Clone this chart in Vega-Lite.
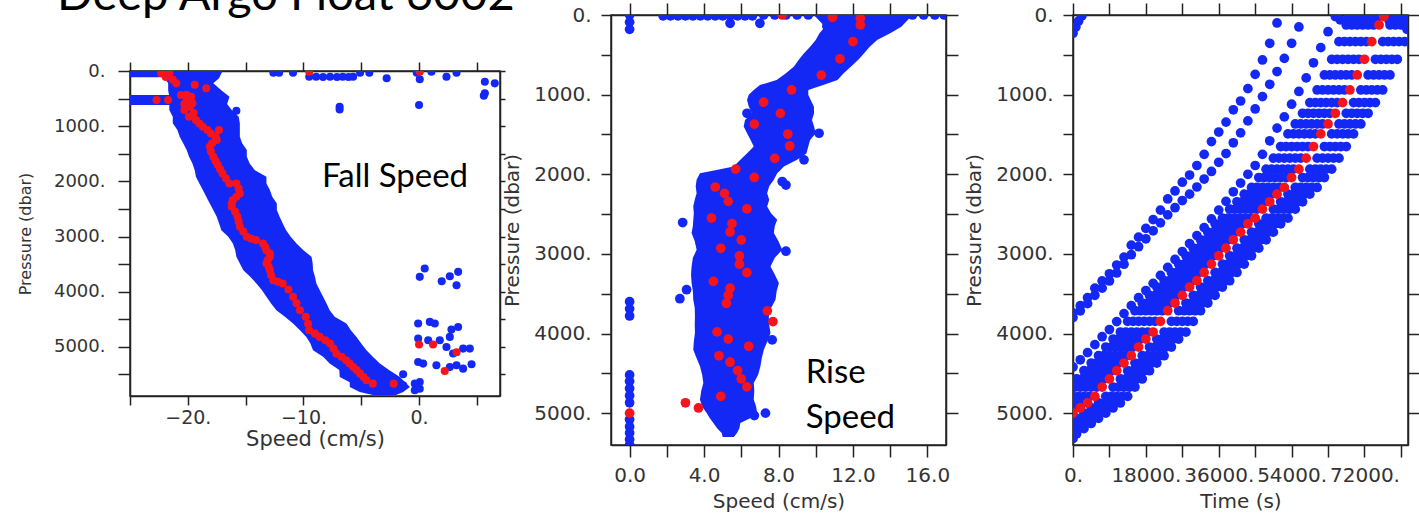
{
"$schema": "https://vega.github.io/schema/vega-lite/v6.json",
"background": "white",
"padding": {"left": 16, "top": -28, "right": 5, "bottom": 5},
"spacing": -16,
"config": {
  "axis": {"domainColor": "#222", "domainWidth": 1.5, "tickColor": "#222", "tickWidth": 1.5, "labelFont": "DejaVu Sans", "titleFont": "DejaVu Sans", "labelColor": "#333", "titleColor": "#333", "titleFontWeight": "normal", "grid": false, "labelFlush": false, "labelOverlap": false, "labelBound": false}
},
"hconcat": [
{
  "spacing": 5,
  "vconcat": [
  {
    "width": 370, "height": 40,
    "view": {"stroke": null},
    "title": {"text": "Deep Argo Float 6002", "font": "Lato", "fontSize": 47, "fontWeight": "normal", "color": "#000", "anchor": "start", "frame": "group", "dx": -73, "offset": -5},
    "data": {"values": [{}]},
    "mark": {"type": "text"},
    "encoding": {"text": {"value": ""}}
  },
  {
  "width": 370, "height": 325,
  "view": {"stroke": "#222", "strokeWidth": 1.5},
  "resolve": {"axis": {"x": "independent", "y": "independent"}},
  "layer": [
    {
      "data": {"values": [
        {"seg":"t1","p":0,"lo":-25.5,"hi":-17.3},{"seg":"t1","p":115,"lo":-25.5,"hi":-17.5},
        {"seg":"t2","p":435,"lo":-25.5,"hi":-21.4},{"seg":"t2","p":617,"lo":-25.5,"hi":-21.4},
        {"seg":"m","p":0,"lo":-22.6,"hi":-17.0},{"seg":"m","p":130,"lo":-22.0,"hi":-17.3},{"seg":"m","p":224,"lo":-21.7,"hi":-17.8},{"seg":"m","p":350,"lo":-21.7,"hi":-17.1},{"seg":"m","p":465,"lo":-21.6,"hi":-16.4},{"seg":"m","p":600,"lo":-21.6,"hi":-16.6},{"seg":"m","p":707,"lo":-21.6,"hi":-16.2},{"seg":"m","p":830,"lo":-21.3,"hi":-15.6},{"seg":"m","p":949,"lo":-21.3,"hi":-15.5},{"seg":"m","p":1070,"lo":-20.9,"hi":-15.5},{"seg":"m","p":1191,"lo":-20.7,"hi":-15.5},{"seg":"m","p":1310,"lo":-20.4,"hi":-15.3},{"seg":"m","p":1433,"lo":-20.1,"hi":-14.9},{"seg":"m","p":1550,"lo":-19.9,"hi":-14.9},{"seg":"m","p":1675,"lo":-19.6,"hi":-14.65},{"seg":"m","p":1800,"lo":-19.4,"hi":-14.2},{"seg":"m","p":1917,"lo":-19.3,"hi":-13.2},{"seg":"m","p":2040,"lo":-19.0,"hi":-13.2},{"seg":"m","p":2158,"lo":-18.7,"hi":-12.9},{"seg":"m","p":2280,"lo":-18.4,"hi":-12.7},{"seg":"m","p":2400,"lo":-18.1,"hi":-12.3},{"seg":"m","p":2520,"lo":-17.8,"hi":-12.3},{"seg":"m","p":2642,"lo":-17.5,"hi":-12.06},{"seg":"m","p":2760,"lo":-17.3,"hi":-11.8},{"seg":"m","p":2884,"lo":-17.1,"hi":-11.5},{"seg":"m","p":3005,"lo":-16.5,"hi":-11.1},{"seg":"m","p":3126,"lo":-16.1,"hi":-10.6},{"seg":"m","p":3250,"lo":-15.9,"hi":-10.0},{"seg":"m","p":3368,"lo":-15.8,"hi":-9.3},{"seg":"m","p":3489,"lo":-15.5,"hi":-9.2},{"seg":"m","p":3609,"lo":-15.2,"hi":-9.17},{"seg":"m","p":3730,"lo":-14.6,"hi":-9.0},{"seg":"m","p":3851,"lo":-14.07,"hi":-8.88},{"seg":"m","p":3970,"lo":-13.6,"hi":-8.6},{"seg":"m","p":4093,"lo":-13.2,"hi":-8.3},{"seg":"m","p":4215,"lo":-12.8,"hi":-8.0},{"seg":"m","p":4335,"lo":-12.34,"hi":-7.73},{"seg":"m","p":4456,"lo":-11.6,"hi":-7.3},{"seg":"m","p":4577,"lo":-10.9,"hi":-6.28},{"seg":"m","p":4700,"lo":-10.3,"hi":-5.9},{"seg":"m","p":4819,"lo":-9.75,"hi":-5.41},{"seg":"m","p":4940,"lo":-9.4,"hi":-5.0},{"seg":"m","p":5061,"lo":-9.17,"hi":-4.55},{"seg":"m","p":5180,"lo":-8.3,"hi":-4.0},{"seg":"m","p":5303,"lo":-7.73,"hi":-3.39},{"seg":"m","p":5420,"lo":-6.9,"hi":-2.6},{"seg":"m","p":5545,"lo":-6.86,"hi":-1.66},{"seg":"m","p":5640,"lo":-6.0,"hi":-1.2},{"seg":"m","p":5726,"lo":-5.99,"hi":-0.79},{"seg":"m","p":5817,"lo":-5.13,"hi":-1.37},{"seg":"m","p":5870,"lo":-4.0,"hi":-2.0}
      ]},
      "mark": {"type": "area", "orient": "horizontal", "color": "#1428f5", "clip": true},
      "encoding": {
        "y": {"field": "p", "type": "quantitative", "scale": {"domain": [0, 5890], "reverse": true, "nice": false, "zero": false},
              "axis": {"orient": "left", "values": [0,500,1000,1500,2000,2500,3000,3500,4000,4500,5000,5500], "labelExpr": "datum.value % 1000 == 0 ? format(datum.value, 'd') + '.' : ''", "tickSize": 12, "labelFontSize": 18, "labelPadding": 13, "title": "Pressure (dbar)", "titleFontSize": 16, "titlePadding": 20}},
        "x": {"field": "lo", "type": "quantitative", "scale": {"domain": [-25, 7], "nice": false, "zero": false},
              "axis": {"orient": "bottom", "values": [-25,-20,-15,-10,-5,0,5], "labelExpr": "datum.value % 10 == 0 ? replace(format(datum.value, 'd'), '-', '\u2212') + '.' : ''", "tickSize": 9, "labelFontSize": 19, "labelPadding": 3, "title": "Speed (cm/s)", "titleFontSize": 21, "titlePadding": 1}},
        "x2": {"field": "hi"},
        "detail": {"field": "seg"}
      }
    },
    {
      "data": {"values": [
        {"s":-12.6,"p":30},{"s":-12.1,"p":30},{"s":-10.9,"p":30},{"s":-9.5,"p":103},{"s":-8.9,"p":103},{"s":-8.3,"p":110},{"s":-7.7,"p":103},{"s":-7.1,"p":110},{"s":-6.6,"p":103},{"s":-6.1,"p":110},{"s":-5.7,"p":103},{"s":-5.1,"p":30},{"s":-4.3,"p":30},{"s":-2.8,"p":133},{"s":-0.2,"p":30},{"s":1.07,"p":12},{"s":0.06,"p":151},{"s":2.37,"p":103},{"s":3.24,"p":31},{"s":5.69,"p":194},{"s":6.55,"p":224},{"s":5.69,"p":405},{"s":5.6,"p":450},{"s":-6.87,"p":647},{"s":-6.87,"p":696},{"s":0.0,"p":617},{"s":-15.8,"p":720},
        {"s":0.06,"p":3731},{"s":0.49,"p":3579},{"s":1.96,"p":3810},{"s":2.66,"p":3719},{"s":3.38,"p":3640},{"s":3.24,"p":3882},
        {"s":-0.08,"p":4577},{"s":0.93,"p":4547},{"s":1.36,"p":4577},{"s":3.38,"p":4638},{"s":2.8,"p":4686},
        {"s":-0.08,"p":4849},{"s":0.79,"p":4880},{"s":1.79,"p":4880},{"s":2.66,"p":4819},{"s":2.37,"p":5001},{"s":3.81,"p":5031},{"s":4.39,"p":5031},{"s":2.94,"p":5121},
        {"s":-0.08,"p":5273},{"s":0.35,"p":5303},{"s":1.5,"p":5333},{"s":2.66,"p":5364},{"s":3.24,"p":5333},{"s":4.54,"p":5315},{"s":3.81,"p":5394},
        {"s":-1.38,"p":5497},{"s":-1.38,"p":5696},{"s":-0.37,"p":5666},{"s":0.06,"p":5757},{"s":-0.37,"p":5787},{"s":0.06,"p":5636},{"s":-2.5,"p":5750},{"s":-3.0,"p":5790}
      ]},
      "mark": {"type": "circle", "size": 65, "color": "#1428f5", "opacity": 1, "clip": true},
      "encoding": {
        "x": {"field": "s", "type": "quantitative", "scale": {"domain": [-25, 7], "nice": false, "zero": false},
              "axis": {"orient": "top", "values": [-25,-20,-15,-10,-5,0,5], "labels": false, "tickSize": 9, "title": null}},
        "y": {"field": "p", "type": "quantitative", "scale": {"domain": [0, 5890], "reverse": true, "nice": false, "zero": false},
              "axis": {"orient": "right", "values": [0,500,1000,1500,2000,2500,3000,3500,4000,4500,5000,5500], "labels": false, "tickSize": 5, "title": null}}
      }
    },
    {
      "data": {"values": [
        {"s":-22.3,"p":40},{"s":-21.6,"p":40},{"s":-21.9,"p":110},{"s":-21.3,"p":160},{"s":-21.0,"p":224},{"s":-19.4,"p":250},{"s":-18.4,"p":314},
        {"s":-22.7,"p":526},{"s":-21.7,"p":526},
        {"s":-20.6,"p":435},{"s":-20.1,"p":430},{"s":-20.1,"p":526},{"s":-19.7,"p":465},{"s":-19.6,"p":586},{"s":-20.3,"p":600},{"s":-20.3,"p":707},{"s":-19.8,"p":650},{"s":-19.9,"p":828},{"s":-19.5,"p":760},{"s":-19.3,"p":889},{"s":-19.0,"p":950},{"s":-18.7,"p":1010},{"s":-18.3,"p":1070},{"s":-18.0,"p":1131},{"s":-17.3,"p":1070},{"s":-17.6,"p":1190},{"s":-17.5,"p":1252},{"s":-18.1,"p":1373},{"s":-17.9,"p":1310},{"s":-18.0,"p":1460},{"s":-17.8,"p":1554},{"s":-17.6,"p":1630},{"s":-17.4,"p":1705},{"s":-17.2,"p":1780},{"s":-17.0,"p":1857},{"s":-16.7,"p":1950},{"s":-16.4,"p":2038},{"s":-15.8,"p":2038},{"s":-15.6,"p":2130},{"s":-15.5,"p":2219},{"s":-15.8,"p":2280},{"s":-16.1,"p":2340},{"s":-16.2,"p":2400},{"s":-16.2,"p":2461},{"s":-15.9,"p":2550},{"s":-15.7,"p":2642},{"s":-15.6,"p":2730},{"s":-15.5,"p":2823},{"s":-15.2,"p":2910},{"s":-14.9,"p":3005},{"s":-14.5,"p":3040},{"s":-14.1,"p":3065},{"s":-13.5,"p":3126},{"s":-13.3,"p":3190},{"s":-13.2,"p":3247},{"s":-12.9,"p":3310},{"s":-12.9,"p":3368},{"s":-13.1,"p":3430},{"s":-13.2,"p":3489},{"s":-13.0,"p":3550},{"s":-12.9,"p":3609},{"s":-12.8,"p":3700},{"s":-12.6,"p":3791},{"s":-12.2,"p":3820},{"s":-11.8,"p":3851},{"s":-11.3,"p":3960},{"s":-10.9,"p":4093},{"s":-10.6,"p":4210},{"s":-10.3,"p":4335},{"s":-9.8,"p":4456},{"s":-9.6,"p":4580},{"s":-9.5,"p":4698},{"s":-9.0,"p":4760},{"s":-8.6,"p":4819},{"s":-8.1,"p":4880},{"s":-7.7,"p":4940},{"s":-7.4,"p":5030},{"s":-7.15,"p":5122},{"s":-6.7,"p":5180},{"s":-6.3,"p":5243},{"s":-6.0,"p":5300},{"s":-5.7,"p":5364},{"s":-5.4,"p":5420},{"s":-5.1,"p":5485},{"s":-4.8,"p":5545},{"s":-4.55,"p":5605},{"s":-4.0,"p":5666},{"s":-2.2,"p":5666},
        {"s":-9.5,"p":12},{"s":0.06,"p":12},{"s":0.0,"p":4958},{"s":1.21,"p":4958},{"s":3.24,"p":5097},{"s":2.22,"p":5437}
      ]},
      "mark": {"type": "circle", "size": 65, "color": "#f5141e", "opacity": 1, "clip": true},
      "encoding": {
        "x": {"field": "s", "type": "quantitative", "scale": {"domain": [-25, 7], "nice": false, "zero": false}, "axis": null},
        "y": {"field": "p", "type": "quantitative", "scale": {"domain": [0, 5890], "reverse": true, "nice": false, "zero": false}, "axis": null}
      }
    },
    {
      "data": {"values": [{}]},
      "mark": {"type": "text", "font": "Lato", "fontSize": 33, "color": "#000", "align": "left", "baseline": "alphabetic"},
      "encoding": {
        "x": {"datum": -8.4, "type": "quantitative", "axis": null},
        "y": {"datum": 2104, "type": "quantitative", "axis": null},
        "text": {"value": "Fall Speed"}
      }
    }
  ]
  }
  ]
},
{
  "width": 335, "height": 430,
  "view": {"stroke": "#222", "strokeWidth": 1.5},
  "resolve": {"axis": {"x": "independent", "y": "independent"}},
  "layer": [
    {
      "data": {"values": [
        {"p":0,"lo":9.9,"hi":15.2},{"p":146,"lo":10.5,"hi":14.6},{"p":230,"lo":10.2,"hi":14.0},{"p":314,"lo":10.0,"hi":13.3},{"p":400,"lo":9.7,"hi":12.9},{"p":481,"lo":9.37,"hi":12.6},{"p":560,"lo":9.1,"hi":12.3},{"p":648,"lo":8.83,"hi":11.9},{"p":730,"lo":8.4,"hi":11.5},{"p":815,"lo":7.9,"hi":11.17},{"p":880,"lo":7.0,"hi":10.4},{"p":941,"lo":6.67,"hi":9.6},{"p":1000,"lo":6.4,"hi":9.6},{"p":1066,"lo":6.31,"hi":9.73},{"p":1150,"lo":6.4,"hi":9.9},{"p":1234,"lo":6.58,"hi":9.91},{"p":1320,"lo":6.2,"hi":9.8},{"p":1401,"lo":6.13,"hi":9.91},{"p":1485,"lo":6.31,"hi":10.0},{"p":1570,"lo":6.5,"hi":9.7},{"p":1652,"lo":6.67,"hi":9.6},{"p":1740,"lo":6.3,"hi":9.5},{"p":1819,"lo":5.95,"hi":9.0},{"p":1903,"lo":5.59,"hi":8.29},{"p":1950,"lo":4.6,"hi":8.1},{"p":1987,"lo":3.78,"hi":7.93},{"p":2070,"lo":3.6,"hi":7.75},{"p":2150,"lo":3.55,"hi":7.5},{"p":2238,"lo":3.6,"hi":7.39},{"p":2320,"lo":3.5,"hi":7.5},{"p":2405,"lo":3.42,"hi":7.39},{"p":2490,"lo":3.45,"hi":7.6},{"p":2572,"lo":3.42,"hi":7.93},{"p":2650,"lo":3.4,"hi":7.8},{"p":2739,"lo":3.33,"hi":7.75},{"p":2840,"lo":3.5,"hi":8.0},{"p":2949,"lo":3.6,"hi":8.2},{"p":3050,"lo":3.4,"hi":7.8},{"p":3158,"lo":3.33,"hi":7.57},{"p":3260,"lo":3.3,"hi":7.8},{"p":3367,"lo":3.33,"hi":8.02},{"p":3470,"lo":3.4,"hi":7.9},{"p":3576,"lo":3.42,"hi":7.84},{"p":3680,"lo":3.5,"hi":7.6},{"p":3785,"lo":3.51,"hi":7.48},{"p":3890,"lo":3.5,"hi":7.5},{"p":3994,"lo":3.51,"hi":7.57},{"p":4100,"lo":3.45,"hi":7.4},{"p":4203,"lo":3.42,"hi":7.21},{"p":4310,"lo":3.6,"hi":7.1},{"p":4412,"lo":3.78,"hi":7.03},{"p":4520,"lo":3.9,"hi":6.9},{"p":4621,"lo":3.96,"hi":6.67},{"p":4720,"lo":3.85,"hi":6.7},{"p":4830,"lo":3.78,"hi":6.67},{"p":4920,"lo":3.9,"hi":6.8},{"p":4998,"lo":4.14,"hi":6.85},{"p":5060,"lo":4.3,"hi":6.5},{"p":5124,"lo":4.5,"hi":5.95},{"p":5190,"lo":4.7,"hi":5.9},{"p":5249,"lo":4.95,"hi":5.77},{"p":5300,"lo":5.0,"hi":5.6}
      ]},
      "mark": {"type": "area", "orient": "horizontal", "color": "#1428f5", "clip": true},
      "encoding": {
        "y": {"field": "p", "type": "quantitative", "scale": {"domain": [0, 5400], "reverse": true, "nice": false, "zero": false},
              "axis": {"orient": "left", "values": [0,500,1000,1500,2000,2500,3000,3500,4000,4500,5000], "labelExpr": "datum.value % 1000 == 0 ? format(datum.value, 'd') + '.' : ''", "tickSize": 10, "labelFontSize": 20, "labelPadding": 10, "title": "Pressure (dbar)", "titleFontSize": 20, "titlePadding": 11}},
        "x": {"field": "lo", "type": "quantitative", "scale": {"domain": [-1, 17], "nice": false, "zero": false},
              "axis": {"orient": "bottom", "values": [0,2,4,6,8,10,12,14,16], "labelExpr": "datum.value % 4 == 0 ? format(datum.value, '.1f') : ''", "tickSize": 12, "labelFontSize": 20, "labelPadding": 8, "title": "Speed (cm/s)", "titleFontSize": 20, "titlePadding": 6}},
        "x2": {"field": "hi"}
      }
    },
    {
      "data": {"values": [
        {"s":0,"p":0},{"s":0,"p":90},{"s":0,"p":180},{"s":0,"p":3600},{"s":0,"p":3690},{"s":0,"p":3780},{"s":0,"p":4520},{"s":0,"p":4600},{"s":0,"p":4690},{"s":0,"p":4780},{"s":0,"p":4870},{"s":0,"p":5080},{"s":0,"p":5170},{"s":0,"p":5250},{"s":0,"p":5330},{"s":0,"p":5400},
        {"s":1.8,"p":10},{"s":2.2,"p":10},{"s":2.6,"p":10},{"s":3.0,"p":10},{"s":3.4,"p":10},{"s":3.8,"p":10},{"s":4.2,"p":10},{"s":4.6,"p":10},{"s":5.0,"p":10},{"s":5.4,"p":10},{"s":5.8,"p":10},{"s":6.2,"p":10},{"s":6.6,"p":10},{"s":7.2,"p":0},{"s":7.8,"p":0},{"s":8.4,"p":0},{"s":9.0,"p":0},{"s":9.6,"p":0},{"s":14.6,"p":0},{"s":15.2,"p":0},{"s":15.8,"p":0},{"s":16.4,"p":0},{"s":16.9,"p":0},{"s":5.4,"p":104},{"s":7.0,"p":104},{"s":10.6,"p":140},{"s":13.2,"p":100},{"s":14.0,"p":125},
        {"s":2.85,"p":2606},{"s":3.06,"p":3450},{"s":2.7,"p":3563},{"s":8.2,"p":2091},{"s":8.4,"p":2966},{"s":7.66,"p":4080},{"s":10.18,"p":1485},{"s":9.37,"p":1819},{"s":6.31,"p":1234},{"s":8.4,"p":2135},{"s":7.3,"p":5000},{"s":6.7,"p":5030}
      ]},
      "mark": {"type": "circle", "size": 95, "color": "#1428f5", "opacity": 1, "clip": true},
      "encoding": {
        "x": {"field": "s", "type": "quantitative", "scale": {"domain": [-1, 17], "nice": false, "zero": false},
              "axis": {"orient": "top", "values": [0,2,4,6,8,10,12,14,16], "labels": false, "tickSize": 12, "title": null}},
        "y": {"field": "p", "type": "quantitative", "scale": {"domain": [0, 5400], "reverse": true, "nice": false, "zero": false},
              "axis": {"orient": "right", "values": [0,500,1000,1500,2000,2500,3000,3500,4000,4500,5000], "labels": false, "tickSize": 12, "title": "|", "titleOpacity": 0, "titleFontSize": 10, "titlePadding": 9}}
      }
    },
    {
      "data": {"values": [
        {"s":8.2,"p":0},{"s":10.9,"p":30},{"s":12.4,"p":40},{"s":12.4,"p":125},{"s":12.0,"p":335},{"s":11.3,"p":550},{"s":10.3,"p":755},{"s":8.7,"p":940},{"s":7.2,"p":1095},{"s":8.1,"p":1235},{"s":6.7,"p":1370},{"s":8.5,"p":1495},{"s":8.6,"p":1645},{"s":7.8,"p":1800},{"s":5.7,"p":1935},{"s":6.7,"p":2040},{"s":4.6,"p":2160},{"s":5.1,"p":2240},{"s":5.3,"p":2340},{"s":6.3,"p":2435},{"s":4.4,"p":2550},{"s":5.5,"p":2620},{"s":5.4,"p":2725},{"s":6.0,"p":2825},{"s":4.9,"p":2930},{"s":5.9,"p":3025},{"s":5.9,"p":3130},{"s":6.3,"p":3235},{"s":4.5,"p":3345},{"s":5.4,"p":3430},{"s":5.3,"p":3520},{"s":5.2,"p":3620},{"s":7.4,"p":3715},{"s":7.7,"p":3850},{"s":4.7,"p":3980},{"s":5.3,"p":4070},{"s":6.4,"p":4160},{"s":4.8,"p":4280},{"s":5.4,"p":4360},{"s":5.8,"p":4465},{"s":6.0,"p":4570},{"s":6.3,"p":4670},{"s":4.9,"p":4790},{"s":3.0,"p":4870},{"s":3.7,"p":4935},{"s":0.0,"p":5000}
      ]},
      "mark": {"type": "circle", "size": 95, "color": "#f5141e", "opacity": 1, "clip": true},
      "encoding": {
        "x": {"field": "s", "type": "quantitative", "scale": {"domain": [-1, 17], "nice": false, "zero": false}, "axis": null},
        "y": {"field": "p", "type": "quantitative", "scale": {"domain": [0, 5400], "reverse": true, "nice": false, "zero": false}, "axis": null}
      }
    },
    {
      "data": {"values": [{}]},
      "mark": {"type": "text", "font": "Lato", "fontSize": 33, "color": "#000", "align": "left", "baseline": "alphabetic", "lineHeight": 45},
      "encoding": {
        "x": {"datum": 9.46, "type": "quantitative", "axis": null},
        "y": {"datum": 4617, "type": "quantitative", "axis": null},
        "text": {"value": ["Rise", "Speed"]}
      }
    }
  ]
},
{
  "width": 335, "height": 430,
  "view": {"stroke": "#222", "strokeWidth": 1.5},
  "resolve": {"axis": {"x": "independent", "y": "independent"}},
  "layer": [
    {
      "data": {"values": [
        {"t":0,"p":4420},{"t":1800,"p":4330},{"t":3600,"p":4240},{"t":5400,"p":4140},{"t":7200,"p":4040},{"t":9000,"p":3950},{"t":10800,"p":3850},{"t":12600,"p":3750},{"t":14400,"p":3650},{"t":16200,"p":3550},{"t":18000,"p":3460},{"t":19800,"p":3370},{"t":21600,"p":3270},{"t":23400,"p":3170},{"t":25200,"p":3070},{"t":27000,"p":2970},{"t":28800,"p":2870},{"t":30600,"p":2770},{"t":32400,"p":2670},{"t":34200,"p":2560},{"t":36000,"p":2450},{"t":37800,"p":2340},{"t":39600,"p":2220},{"t":41400,"p":2110},{"t":43200,"p":2000},{"t":45000,"p":1890},{"t":46800,"p":1750},{"t":48600,"p":1580},{"t":50400,"p":1420},{"t":52200,"p":1280},{"t":54000,"p":1120},{"t":55800,"p":960},{"t":57600,"p":790},{"t":59400,"p":600},{"t":61200,"p":410},{"t":63000,"p":210},{"t":64800,"p":20},
        {"t":0,"p":4620},{"t":900,"p":4571},{"t":2700,"p":4467},{"t":4500,"p":4371},{"t":6300,"p":4279},{"t":8100,"p":4170},{"t":9900,"p":4069},{"t":11700,"p":3981},{"t":13500,"p":3848},{"t":15300,"p":3714},{"t":17100,"p":3617},{"t":18900,"p":3521},{"t":20700,"p":3417},{"t":22500,"p":3337},{"t":24300,"p":3233},{"t":26100,"p":3128},{"t":27900,"p":3024},{"t":29700,"p":2928},{"t":31500,"p":2823},{"t":33300,"p":2727},{"t":35100,"p":2622},{"t":36900,"p":2551},{"t":38700,"p":2438},{"t":40500,"p":2346},{"t":42300,"p":2250},{"t":44100,"p":2166},{"t":45900,"p":2041},{"t":47700,"p":1936},{"t":49500,"p":1798},{"t":51300,"p":1652},{"t":53100,"p":1493},{"t":54900,"p":1368},{"t":56700,"p":1234},{"t":58500,"p":1100},{"t":60300,"p":941},{"t":62100,"p":753},{"t":63900,"p":556},{"t":65700,"p":335},{"t":67500,"p":125},{"t":68700,"p":20},
        {"t":450,"p":4672},{"t":2250,"p":4571},{"t":4050,"p":4467},{"t":5850,"p":4371},{"t":7650,"p":4279},{"t":9450,"p":4170},{"t":11250,"p":4069},{"t":13050,"p":3981},{"t":14850,"p":3848},{"t":16650,"p":3714},{"t":18450,"p":3617},{"t":20250,"p":3521},{"t":22050,"p":3417},{"t":23850,"p":3337},{"t":25650,"p":3233},{"t":27450,"p":3128},{"t":29250,"p":3024},{"t":31050,"p":2928},{"t":32850,"p":2823},{"t":34650,"p":2727},{"t":36450,"p":2622},{"t":38250,"p":2551},{"t":40050,"p":2438},{"t":41850,"p":2346},{"t":43650,"p":2250},{"t":45450,"p":2166},{"t":47250,"p":2041},{"t":49050,"p":1936},{"t":50850,"p":1798},{"t":52650,"p":1652},{"t":54450,"p":1493},{"t":56250,"p":1368},{"t":58050,"p":1234},{"t":59850,"p":1100},{"t":61650,"p":941},{"t":63450,"p":753},{"t":65250,"p":556},{"t":67050,"p":335},{"t":68850,"p":125},{"t":70050,"p":20},
        {"t":0,"p":4789},{"t":1800,"p":4672},{"t":3600,"p":4571},{"t":5400,"p":4467},{"t":7200,"p":4371},{"t":9000,"p":4279},{"t":10800,"p":4170},{"t":12600,"p":4069},{"t":14400,"p":3981},{"t":16200,"p":3848},{"t":18000,"p":3714},{"t":19800,"p":3617},{"t":21600,"p":3521},{"t":23400,"p":3417},{"t":25200,"p":3337},{"t":27000,"p":3233},{"t":28800,"p":3128},{"t":30600,"p":3024},{"t":32400,"p":2928},{"t":34200,"p":2823},{"t":36000,"p":2727},{"t":37800,"p":2622},{"t":39600,"p":2551},{"t":41400,"p":2438},{"t":43200,"p":2346},{"t":45000,"p":2250},{"t":46800,"p":2166},{"t":48600,"p":2041},{"t":50400,"p":1936},{"t":52200,"p":1798},{"t":54000,"p":1652},{"t":55800,"p":1493},{"t":57600,"p":1368},{"t":59400,"p":1234},{"t":61200,"p":1100},{"t":63000,"p":941},{"t":64800,"p":753},{"t":66600,"p":556},{"t":68400,"p":335},{"t":70200,"p":125},{"t":71400,"p":20},
        {"t":1350,"p":4789},{"t":3150,"p":4672},{"t":4950,"p":4571},{"t":6750,"p":4467},{"t":8550,"p":4371},{"t":10350,"p":4279},{"t":12150,"p":4170},{"t":13950,"p":4069},{"t":15750,"p":3981},{"t":17550,"p":3848},{"t":19350,"p":3714},{"t":21150,"p":3617},{"t":22950,"p":3521},{"t":24750,"p":3417},{"t":26550,"p":3337},{"t":28350,"p":3233},{"t":30150,"p":3128},{"t":31950,"p":3024},{"t":33750,"p":2928},{"t":35550,"p":2823},{"t":37350,"p":2727},{"t":39150,"p":2622},{"t":40950,"p":2551},{"t":42750,"p":2438},{"t":44550,"p":2346},{"t":46350,"p":2250},{"t":48150,"p":2166},{"t":49950,"p":2041},{"t":51750,"p":1936},{"t":53550,"p":1798},{"t":55350,"p":1652},{"t":57150,"p":1493},{"t":58950,"p":1368},{"t":60750,"p":1234},{"t":62550,"p":1100},{"t":64350,"p":941},{"t":66150,"p":753},{"t":67950,"p":556},{"t":69750,"p":335},{"t":71550,"p":125},{"t":72750,"p":20},
        {"t":0,"p":4920},{"t":900,"p":4872},{"t":2700,"p":4789},{"t":4500,"p":4672},{"t":6300,"p":4571},{"t":8100,"p":4467},{"t":9900,"p":4371},{"t":11700,"p":4279},{"t":13500,"p":4170},{"t":15300,"p":4069},{"t":17100,"p":3981},{"t":18900,"p":3848},{"t":20700,"p":3714},{"t":22500,"p":3617},{"t":24300,"p":3521},{"t":26100,"p":3417},{"t":27900,"p":3337},{"t":29700,"p":3233},{"t":31500,"p":3128},{"t":33300,"p":3024},{"t":35100,"p":2928},{"t":36900,"p":2823},{"t":38700,"p":2727},{"t":40500,"p":2622},{"t":42300,"p":2551},{"t":44100,"p":2438},{"t":45900,"p":2346},{"t":47700,"p":2250},{"t":49500,"p":2166},{"t":51300,"p":2041},{"t":53100,"p":1936},{"t":54900,"p":1798},{"t":56700,"p":1652},{"t":58500,"p":1493},{"t":60300,"p":1368},{"t":62100,"p":1234},{"t":63900,"p":1100},{"t":65700,"p":941},{"t":67500,"p":753},{"t":69300,"p":556},{"t":71100,"p":335},{"t":72900,"p":125},{"t":74100,"p":20},
        {"t":450,"p":4935},{"t":2250,"p":4872},{"t":4050,"p":4789},{"t":5850,"p":4672},{"t":7650,"p":4571},{"t":9450,"p":4467},{"t":11250,"p":4371},{"t":13050,"p":4279},{"t":14850,"p":4170},{"t":16650,"p":4069},{"t":18450,"p":3981},{"t":20250,"p":3848},{"t":22050,"p":3714},{"t":23850,"p":3617},{"t":25650,"p":3521},{"t":27450,"p":3417},{"t":29250,"p":3337},{"t":31050,"p":3233},{"t":32850,"p":3128},{"t":34650,"p":3024},{"t":36450,"p":2928},{"t":38250,"p":2823},{"t":40050,"p":2727},{"t":41850,"p":2622},{"t":43650,"p":2551},{"t":45450,"p":2438},{"t":47250,"p":2346},{"t":49050,"p":2250},{"t":50850,"p":2166},{"t":52650,"p":2041},{"t":54450,"p":1936},{"t":56250,"p":1798},{"t":58050,"p":1652},{"t":59850,"p":1493},{"t":61650,"p":1368},{"t":63450,"p":1234},{"t":65250,"p":1100},{"t":67050,"p":941},{"t":68850,"p":753},{"t":70650,"p":556},{"t":72450,"p":335},{"t":74250,"p":125},{"t":75450,"p":20},
        {"t":900,"p":5065},{"t":2700,"p":5000},{"t":4500,"p":4935},{"t":6300,"p":4872},{"t":8100,"p":4789},{"t":9900,"p":4672},{"t":11700,"p":4571},{"t":13500,"p":4467},{"t":15300,"p":4371},{"t":17100,"p":4279},{"t":18900,"p":4170},{"t":20700,"p":4069},{"t":22500,"p":3981},{"t":24300,"p":3848},{"t":26100,"p":3714},{"t":27900,"p":3617},{"t":29700,"p":3521},{"t":31500,"p":3417},{"t":33300,"p":3337},{"t":35100,"p":3233},{"t":36900,"p":3128},{"t":38700,"p":3024},{"t":40500,"p":2928},{"t":42300,"p":2823},{"t":44100,"p":2727},{"t":45900,"p":2622},{"t":47700,"p":2551},{"t":49500,"p":2438},{"t":51300,"p":2346},{"t":53100,"p":2250},{"t":54900,"p":2166},{"t":56700,"p":2041},{"t":58500,"p":1936},{"t":60300,"p":1798},{"t":62100,"p":1652},{"t":63900,"p":1493},{"t":65700,"p":1368},{"t":67500,"p":1234},{"t":69300,"p":1100},{"t":71100,"p":941},{"t":72900,"p":753},{"t":74700,"p":556},{"t":76500,"p":335},{"t":78300,"p":125},{"t":79500,"p":20},
        {"t":450,"p":5130},{"t":2250,"p":5065},{"t":4050,"p":5000},{"t":5850,"p":4935},{"t":7650,"p":4872},{"t":9450,"p":4789},{"t":11250,"p":4672},{"t":13050,"p":4571},{"t":14850,"p":4467},{"t":16650,"p":4371},{"t":18450,"p":4279},{"t":20250,"p":4170},{"t":22050,"p":4069},{"t":23850,"p":3981},{"t":25650,"p":3848},{"t":27450,"p":3714},{"t":29250,"p":3617},{"t":31050,"p":3521},{"t":32850,"p":3417},{"t":34650,"p":3337},{"t":36450,"p":3233},{"t":38250,"p":3128},{"t":40050,"p":3024},{"t":41850,"p":2928},{"t":43650,"p":2823},{"t":45450,"p":2727},{"t":47250,"p":2622},{"t":49050,"p":2551},{"t":50850,"p":2438},{"t":52650,"p":2346},{"t":54450,"p":2250},{"t":56250,"p":2166},{"t":58050,"p":2041},{"t":59850,"p":1936},{"t":61650,"p":1798},{"t":63450,"p":1652},{"t":65250,"p":1493},{"t":67050,"p":1368},{"t":68850,"p":1234},{"t":70650,"p":1100},{"t":72450,"p":941},{"t":74250,"p":753},{"t":76050,"p":556},{"t":77850,"p":335},{"t":79650,"p":125},{"t":80850,"p":20},
        {"t":0,"p":5195},{"t":1800,"p":5130},{"t":3600,"p":5065},{"t":5400,"p":5000},{"t":7200,"p":4935},{"t":9000,"p":4872},{"t":10800,"p":4789},{"t":12600,"p":4672},{"t":14400,"p":4571},{"t":16200,"p":4467},{"t":18000,"p":4371},{"t":19800,"p":4279},{"t":21600,"p":4170},{"t":23400,"p":4069},{"t":25200,"p":3981},{"t":27000,"p":3848},{"t":28800,"p":3714},{"t":30600,"p":3617},{"t":32400,"p":3521},{"t":34200,"p":3417},{"t":36000,"p":3337},{"t":37800,"p":3233},{"t":39600,"p":3128},{"t":41400,"p":3024},{"t":43200,"p":2928},{"t":45000,"p":2823},{"t":46800,"p":2727},{"t":48600,"p":2622},{"t":50400,"p":2551},{"t":52200,"p":2438},{"t":54000,"p":2346},{"t":55800,"p":2250},{"t":57600,"p":2166},{"t":59400,"p":2041},{"t":61200,"p":1936},{"t":63000,"p":1798},{"t":64800,"p":1652},{"t":66600,"p":1493},{"t":68400,"p":1368},{"t":70200,"p":1234},{"t":72000,"p":1100},{"t":73800,"p":941},{"t":75600,"p":753},{"t":77400,"p":556},{"t":79200,"p":335},{"t":81000,"p":125},{"t":82200,"p":20},
        {"t":1350,"p":5195},{"t":3150,"p":5130},{"t":4950,"p":5065},{"t":6750,"p":5000},{"t":8550,"p":4935},{"t":10350,"p":4872},{"t":12150,"p":4789},{"t":13950,"p":4672},{"t":15750,"p":4571},{"t":17550,"p":4467},{"t":19350,"p":4371},{"t":21150,"p":4279},{"t":22950,"p":4170},{"t":24750,"p":4069},{"t":26550,"p":3981},{"t":28350,"p":3848},{"t":30150,"p":3714},{"t":31950,"p":3617},{"t":33750,"p":3521},{"t":35550,"p":3417},{"t":37350,"p":3337},{"t":39150,"p":3233},{"t":40950,"p":3128},{"t":42750,"p":3024},{"t":44550,"p":2928},{"t":46350,"p":2823},{"t":48150,"p":2727},{"t":49950,"p":2622},{"t":51750,"p":2551},{"t":53550,"p":2438},{"t":55350,"p":2346},{"t":57150,"p":2250},{"t":58950,"p":2166},{"t":60750,"p":2041},{"t":62550,"p":1936},{"t":64350,"p":1798},{"t":66150,"p":1652},{"t":67950,"p":1493},{"t":69750,"p":1368},{"t":71550,"p":1234},{"t":73350,"p":1100},{"t":75150,"p":941},{"t":76950,"p":753},{"t":78750,"p":556},{"t":80550,"p":335},{"t":82350,"p":125},
        {"t":0,"p":5320},{"t":900,"p":5260},{"t":2700,"p":5195},{"t":4500,"p":5130},{"t":6300,"p":5065},{"t":8100,"p":5000},{"t":9900,"p":4935},{"t":11700,"p":4872},{"t":13500,"p":4789},{"t":15300,"p":4672},{"t":17100,"p":4571},{"t":18900,"p":4467},{"t":20700,"p":4371},{"t":22500,"p":4279},{"t":24300,"p":4170},{"t":26100,"p":4069},{"t":27900,"p":3981},{"t":29700,"p":3848},{"t":31500,"p":3714},{"t":33300,"p":3617},{"t":35100,"p":3521},{"t":36900,"p":3417},{"t":38700,"p":3337},{"t":40500,"p":3233},{"t":42300,"p":3128},{"t":44100,"p":3024},{"t":45900,"p":2928},{"t":47700,"p":2823},{"t":49500,"p":2727},{"t":51300,"p":2622},{"t":53100,"p":2551},{"t":54900,"p":2438},{"t":56700,"p":2346},{"t":58500,"p":2250},{"t":60300,"p":2166},{"t":62100,"p":2041},{"t":63900,"p":1936},{"t":65700,"p":1798},{"t":67500,"p":1652},{"t":69300,"p":1493},{"t":71100,"p":1368},{"t":72900,"p":1234},{"t":74700,"p":1100},{"t":76500,"p":941},{"t":78300,"p":753},{"t":80100,"p":556},{"t":81900,"p":335},
        {"t":0,"p":3740},{"t":1800,"p":3650},{"t":3600,"p":3550},{"t":5400,"p":3430},{"t":7200,"p":3340},{"t":9000,"p":3250},{"t":10800,"p":3140},{"t":12600,"p":3040},{"t":14400,"p":2890},{"t":16200,"p":2790},{"t":18000,"p":2680},{"t":19800,"p":2570},{"t":21600,"p":2450},{"t":23400,"p":2310},{"t":25200,"p":2210},{"t":27000,"p":2100},{"t":28800,"p":2010},{"t":30600,"p":1890},{"t":32400,"p":1750},{"t":34200,"p":1590},{"t":36000,"p":1470},{"t":37800,"p":1345},{"t":39600,"p":1190},{"t":41400,"p":1080},{"t":43200,"p":925},{"t":45000,"p":745},{"t":46800,"p":565},{"t":48600,"p":355},{"t":50400,"p":100},
        {"t":0,"p":3800},{"t":1800,"p":3715},{"t":3600,"p":3625},{"t":5400,"p":3520},{"t":7200,"p":3430},{"t":9000,"p":3340},{"t":10800,"p":3240},{"t":12600,"p":3130},{"t":14400,"p":3010},{"t":16200,"p":2910},{"t":18000,"p":2810},{"t":19800,"p":2710},{"t":21600,"p":2610},{"t":23400,"p":2510},{"t":25200,"p":2420},{"t":27000,"p":2330},{"t":28800,"p":2250},{"t":30600,"p":2160},{"t":32400,"p":2060},{"t":34200,"p":1965},{"t":36000,"p":1850},{"t":37800,"p":1740},{"t":39600,"p":1605},{"t":41400,"p":1480},{"t":43200,"p":1330},{"t":45000,"p":1180},{"t":46800,"p":1025},{"t":48600,"p":870},{"t":50400,"p":710},{"t":52200,"p":545},{"t":54000,"p":355},{"t":55800,"p":150},
        {"t":0,"p":230},{"t":700,"p":150},{"t":1400,"p":75},{"t":2200,"p":10},
        {"t":66000,"p":60},{"t":68000,"p":30},{"t":70000,"p":80},{"t":72000,"p":40},{"t":74000,"p":90},{"t":78000,"p":60},{"t":80000,"p":30},{"t":82000,"p":80},{"t":82500,"p":180}
      ]},
      "mark": {"type": "circle", "size": 95, "color": "#1428f5", "opacity": 1, "clip": true},
      "encoding": {
        "y": {"field": "p", "type": "quantitative", "scale": {"domain": [0, 5400], "reverse": true, "nice": false, "zero": false},
              "axis": {"orient": "left", "values": [0,500,1000,1500,2000,2500,3000,3500,4000,4500,5000], "labelExpr": "datum.value % 1000 == 0 ? format(datum.value, 'd') + '.' : ''", "tickSize": 10, "labelFontSize": 20, "labelPadding": 10, "title": "Pressure (dbar)", "titleFontSize": 20, "titlePadding": 11}},
        "x": {"field": "t", "type": "quantitative", "scale": {"domain": [0, 82750], "nice": false, "zero": false},
              "axis": {"orient": "bottom", "values": [0,9000,18000,27000,36000,45000,54000,63000,72000,81000], "labelExpr": "datum.value % 18000 == 0 ? format(datum.value, 'd') + '.' : ''", "tickSize": 12, "labelFontSize": 20, "labelPadding": 8, "title": "Time (s)", "titleFontSize": 20, "titlePadding": 6}}
      }
    },
    {
      "data": {"values": [
        {"t":0,"p":5000},{"t":1800,"p":4935},{"t":3600,"p":4872},{"t":5400,"p":4789},{"t":7200,"p":4672},{"t":9000,"p":4571},{"t":10800,"p":4467},{"t":12600,"p":4371},{"t":14400,"p":4279},{"t":16200,"p":4170},{"t":18000,"p":4069},{"t":19800,"p":3981},{"t":21600,"p":3848},{"t":23400,"p":3714},{"t":25200,"p":3617},{"t":27000,"p":3521},{"t":28800,"p":3417},{"t":30600,"p":3337},{"t":32400,"p":3233},{"t":34200,"p":3128},{"t":36000,"p":3024},{"t":37800,"p":2928},{"t":39600,"p":2823},{"t":41400,"p":2727},{"t":43200,"p":2622},{"t":45000,"p":2551},{"t":46800,"p":2438},{"t":48600,"p":2346},{"t":50400,"p":2250},{"t":52200,"p":2166},{"t":54000,"p":2041},{"t":55800,"p":1936},{"t":57600,"p":1798},{"t":59400,"p":1652},{"t":61200,"p":1493},{"t":63000,"p":1368},{"t":64800,"p":1234},{"t":66600,"p":1100},{"t":68400,"p":941},{"t":70200,"p":753},{"t":72000,"p":556},{"t":73800,"p":335},{"t":75600,"p":125},{"t":76800,"p":20}
      ]},
      "mark": {"type": "circle", "size": 95, "color": "#f5141e", "opacity": 1, "clip": true},
      "encoding": {
        "x": {"field": "t", "type": "quantitative", "scale": {"domain": [0, 82750], "nice": false, "zero": false},
              "axis": {"orient": "top", "values": [0,9000,18000,27000,36000,45000,54000,63000,72000,81000], "labels": false, "tickSize": 12, "title": null}},
        "y": {"field": "p", "type": "quantitative", "scale": {"domain": [0, 5400], "reverse": true, "nice": false, "zero": false},
              "axis": {"orient": "right", "values": [0,500,1000,1500,2000,2500,3000,3500,4000,4500,5000], "labels": false, "tickSize": 12, "title": null}}
      }
    }
  ]
}
]
}
